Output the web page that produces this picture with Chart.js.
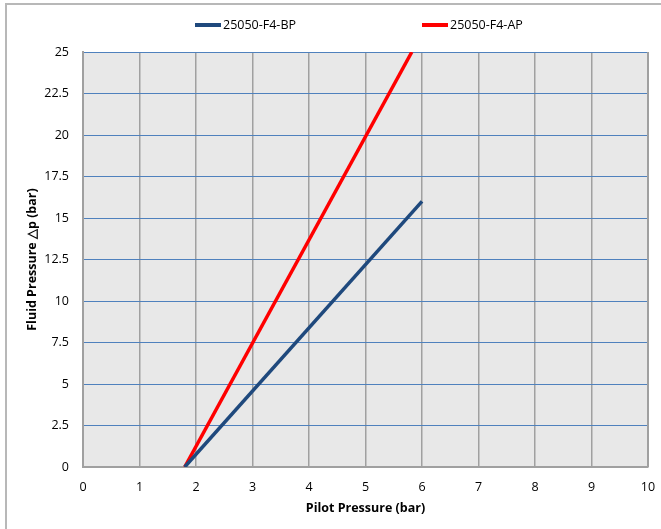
<!DOCTYPE html>
<html>
<head>
<meta charset="utf-8">
<script src="https://cdn.jsdelivr.net/npm/chart.js@4"></script>
<style>
    html, body { margin: 0; padding: 0; background: #fff; }
    #wrap { width: 661px; height: 529px; position: relative; }
</style>
</head>
<body>
<div id="wrap"><canvas id="chart"></canvas></div>
<script>
// series data
const seriesNames = ['25050-F4-BP', '25050-F4-AP'];
const seriesColors = ['#1f497d', '#ff0000'];
const bpPilot = [1.8, 6];
const bpFluid = [0, 16];
const apPilot = [1.8, 5.82];
const apFluid = [0, 25];

const xTicks = [0, 1, 2, 3, 4, 5, 6, 7, 8, 9, 10];
const yTicks = [0, 2.5, 5, 7.5, 10, 12.5, 15, 17.5, 20, 22.5, 25];

const fontFamily = "'Open Sans', 'Noto Sans', sans-serif";

const toPoints = (xs, ys) => xs.map((x, i) => ({ x: x, y: ys[i] }));

// plot background, outer frame, right border and the legend
const decorPlugin = {
    id: 'decor',
    beforeDraw(chart) {
        const { ctx, chartArea } = chart;
        ctx.save();
        ctx.fillStyle = '#e8e8e8';
        ctx.fillRect(chartArea.left, chartArea.top, chartArea.right - chartArea.left, chartArea.bottom - chartArea.top);
        ctx.strokeStyle = '#b8b8b8';
        ctx.lineWidth = 2;
        ctx.beginPath();
        ctx.moveTo(6, 529);
        ctx.lineTo(6, 4);
        ctx.lineTo(661, 4);
        ctx.stroke();
        ctx.restore();
    },
    afterDraw(chart) {
        const { ctx, chartArea } = chart;
        ctx.save();
        ctx.strokeStyle = '#a0a0a0';
        ctx.lineWidth = 2;
        ctx.beginPath();
        ctx.moveTo(chartArea.right, chartArea.top);
        ctx.lineTo(chartArea.right, chartArea.bottom);
        ctx.stroke();

        // legend
        const starts = [195, 422];
        ctx.font = '12.5px ' + fontFamily;
        ctx.textBaseline = 'middle';
        ctx.fillStyle = '#000';
        chart.data.datasets.forEach((ds, i) => {
            ctx.strokeStyle = ds.borderColor;
            ctx.lineWidth = 4;
            ctx.beginPath();
            ctx.moveTo(starts[i], 25);
            ctx.lineTo(starts[i] + 26, 25);
            ctx.stroke();
            ctx.fillText(ds.label, starts[i] + 28, 25);
        });
        ctx.restore();
    }
};

const ctx = document.getElementById('chart').getContext('2d');
new Chart(ctx, {
    type: 'scatter',
    data: {
        datasets: [
            {
                label: seriesNames[0],
                data: toPoints(bpPilot, bpFluid),
                borderColor: seriesColors[0],
                backgroundColor: seriesColors[0],
                showLine: true,
                borderWidth: 3.5,
                pointRadius: 0
            },
            {
                label: seriesNames[1],
                data: toPoints(apPilot, apFluid),
                borderColor: seriesColors[1],
                backgroundColor: seriesColors[1],
                showLine: true,
                borderWidth: 3.5,
                pointRadius: 0
            }
        ]
    },
    options: {
        responsive: true,
        maintainAspectRatio: false,
        animation: false,
        layout: {
            padding: { top: 52, left: 21, right: 13, bottom: 9 }
        },
        plugins: {
            legend: { display: false },
            tooltip: { enabled: false }
        },
        scales: {
            x: {
                type: 'linear',
                min: 0,
                max: 10,
                afterBuildTicks: axis => { axis.ticks = xTicks.map(v => ({ value: v })); },
                afterFit: axis => {
                    axis.height = 53;
                    axis.paddingLeft = 0;
                    axis.paddingRight = 0;
                },
                ticks: {
                    padding: 13,
                    color: '#000',
                    font: { family: fontFamily, size: 12.5 }
                },
                grid: {
                    color: '#a0a0a0',
                    lineWidth: 1.5,
                    drawTicks: false
                },
                border: { color: '#a0a0a0', width: 2 },
                title: {
                    display: true,
                    text: 'Pilot Pressure (bar)',
                    color: '#000',
                    font: { family: fontFamily, size: 12.5, weight: 'bold' }
                }
            },
            y: {
                type: 'linear',
                min: 0,
                max: 25,
                afterBuildTicks: axis => { axis.ticks = yTicks.map(v => ({ value: v })); },
                afterFit: axis => { axis.width = 62; },
                ticks: {
                    padding: 14,
                    color: '#000',
                    font: { family: fontFamily, size: 12.5 }
                },
                grid: {
                    color: '#4f81bd',
                    lineWidth: 1,
                    drawTicks: false
                },
                border: { color: '#a0a0a0', width: 2 },
                title: {
                    display: true,
                    text: 'Fluid Pressure \u25B3p (bar)',
                    color: '#000',
                    font: { family: fontFamily, size: 12.5, weight: 'bold' }
                }
            }
        }
    },
    plugins: [decorPlugin]
});
</script>
</body>
</html>
